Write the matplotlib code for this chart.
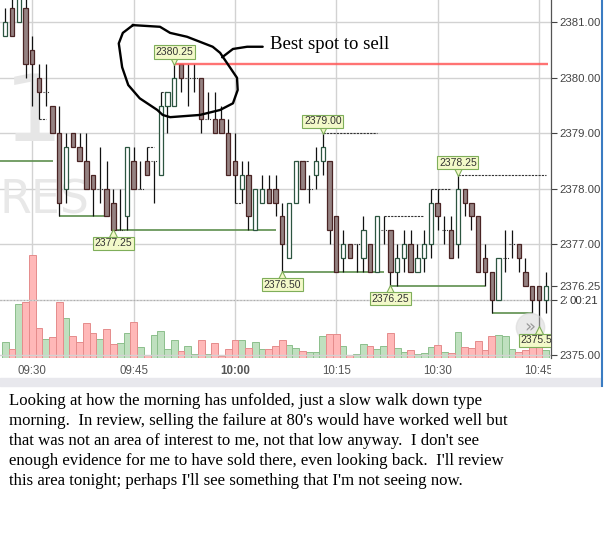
#!/usr/bin/env python3
import matplotlib
matplotlib.use("Agg")
import matplotlib.pyplot as plt
import matplotlib.transforms as mtransforms
import numpy as np

# 1-minute bars, ES futures, morning session
times = ["09:26", "09:27", "09:28", "09:29", "09:30", "09:31", "09:32", "09:33", "09:34", "09:35",
         "09:36", "09:37", "09:38", "09:39", "09:40", "09:41", "09:42", "09:43", "09:44", "09:45",
         "09:46", "09:47", "09:48", "09:49", "09:50", "09:51", "09:52", "09:53", "09:54", "09:55",
         "09:56", "09:57", "09:58", "09:59", "10:00", "10:01", "10:02", "10:03", "10:04", "10:05",
         "10:06", "10:07", "10:08", "10:09", "10:10", "10:11", "10:12", "10:13", "10:14", "10:15",
         "10:16", "10:17", "10:18", "10:19", "10:20", "10:21", "10:22", "10:23", "10:24", "10:25",
         "10:26", "10:27", "10:28", "10:29", "10:30", "10:31", "10:32", "10:33", "10:34", "10:35",
         "10:36", "10:37", "10:38", "10:39", "10:40", "10:41", "10:42", "10:43", "10:44", "10:45",
         "10:46"]
opens = [2380.75, 2381.25, 2381.00, 2381.25, 2380.50, 2380.00, 2379.75, 2379.50, 2379.00, 2378.00,
         2379.00, 2378.75, 2378.50, 2378.25, 2378.00, 2378.00, 2377.75, 2377.25, 2377.50, 2378.50,
         2378.00, 2378.50, 2378.50, 2378.25, 2379.50, 2379.50, 2380.25, 2380.00, 2380.00, 2380.00,
         2379.25, 2379.25, 2379.25, 2379.00, 2378.50, 2378.00, 2378.25, 2377.25, 2377.75, 2378.00,
         2378.00, 2377.50, 2376.75, 2377.75, 2378.50, 2378.00, 2378.25, 2378.50, 2378.50, 2377.50,
         2376.75, 2377.00, 2377.00, 2376.75, 2377.00, 2376.50, 2377.25, 2377.25, 2376.50, 2376.75,
         2377.00, 2376.50, 2376.75, 2377.00, 2377.75, 2377.25, 2377.25, 2377.00, 2378.00, 2377.75,
         2377.50, 2376.75, 2376.50, 2376.00, 2376.75, 2377.00, 2377.00, 2376.50, 2376.25, 2376.25,
         2376.00]
highs = [2381.25, 2381.50, 2381.75, 2381.50, 2380.75, 2380.25, 2380.25, 2379.50, 2379.50, 2379.00,
         2379.00, 2379.00, 2379.00, 2378.25, 2378.75, 2378.50, 2378.00, 2378.00, 2378.75, 2378.75,
         2378.50, 2378.75, 2378.50, 2379.75, 2379.75, 2380.25, 2380.25, 2380.25, 2380.25, 2380.00,
         2379.75, 2379.75, 2379.50, 2379.25, 2379.00, 2378.50, 2378.50, 2378.00, 2378.25, 2378.25,
         2378.25, 2377.75, 2377.75, 2378.50, 2378.50, 2378.25, 2378.75, 2379.00, 2378.50, 2377.50,
         2377.25, 2377.00, 2377.00, 2377.50, 2377.00, 2377.50, 2377.50, 2377.25, 2377.00, 2377.25,
         2377.25, 2377.00, 2377.25, 2378.00, 2378.00, 2377.50, 2377.50, 2378.25, 2378.00, 2377.75,
         2377.50, 2377.00, 2376.50, 2376.75, 2377.25, 2377.25, 2377.00, 2376.75, 2376.25, 2376.25,
         2376.50]
lows = [2380.75, 2380.75, 2381.00, 2380.00, 2379.50, 2379.25, 2379.50, 2379.00, 2377.50, 2377.75,
        2378.75, 2378.50, 2378.00, 2377.50, 2377.75, 2377.50, 2377.25, 2377.25, 2377.25, 2378.00,
        2378.00, 2378.25, 2377.75, 2378.25, 2379.00, 2379.50, 2379.75, 2379.50, 2379.75, 2379.00,
        2379.25, 2379.00, 2379.00, 2378.25, 2377.75, 2377.75, 2377.25, 2377.25, 2377.75, 2377.75,
        2377.50, 2376.50, 2376.75, 2377.75, 2378.00, 2377.75, 2378.00, 2378.25, 2377.00, 2376.50,
        2376.50, 2376.75, 2376.50, 2376.50, 2376.50, 2376.50, 2377.00, 2376.25, 2376.25, 2376.50,
        2376.50, 2376.50, 2376.50, 2376.75, 2377.25, 2377.00, 2376.75, 2376.75, 2377.50, 2377.25,
        2376.50, 2376.25, 2375.75, 2376.00, 2376.50, 2376.75, 2376.50, 2376.25, 2375.75, 2375.50,
        2375.75]
closes = [2381.00, 2380.75, 2381.50, 2380.25, 2380.25, 2379.75, 2379.75, 2379.00, 2377.75, 2378.75,
          2378.75, 2378.50, 2378.00, 2378.00, 2378.00, 2377.50, 2377.25, 2377.25, 2378.75, 2378.00,
          2378.00, 2378.25, 2378.50, 2379.50, 2379.75, 2380.00, 2380.00, 2380.00, 2380.00, 2379.25,
          2379.25, 2379.00, 2379.00, 2378.25, 2378.25, 2378.25, 2377.50, 2378.00, 2378.00, 2377.75,
          2377.75, 2377.00, 2377.75, 2378.50, 2378.00, 2378.00, 2378.50, 2378.75, 2377.25, 2376.50,
          2377.00, 2376.75, 2377.00, 2377.25, 2376.50, 2377.50, 2377.25, 2376.50, 2376.75, 2377.00,
          2376.50, 2376.75, 2377.00, 2377.75, 2377.50, 2377.25, 2376.75, 2378.00, 2377.75, 2377.50,
          2376.50, 2376.50, 2376.00, 2376.75, 2376.75, 2377.00, 2376.75, 2376.25, 2376.00, 2376.00,
          2376.25]
volumes = [160, 90, 540, 560, 1030, 300, 190, 210, 560, 400,
           220, 160, 350, 250, 190, 290, 140, 150, 250, 360,
           110, 30, 230, 270, 90, 180, 70, 120, 40, 180,
           40, 150, 20, 90, 180, 180, 100, 160, 90, 90,
           120, 180, 130, 100, 70, 60, 60, 220, 240, 240,
           120, 30, 40, 140, 120, 90, 120, 250, 100, 60,
           80, 40, 50, 110, 130, 60, 50, 260, 110, 100,
           170, 80, 220, 230, 220, 90, 60, 80, 120, 120,
           80]

# swing high / low lines drawn by the platform: (start, end, price)
low_lines = [("09:20", "09:33", 2378.50), ("09:34", "09:41", 2377.50), ("09:42", "10:06", 2377.25),
             ("10:07", "10:22", 2376.50), ("10:23", "10:37", 2376.25), ("10:38", "10:44", 2375.75)]
high_lines = [("09:31", "09:32", 2379.25), ("09:47", "09:48", 2378.75), ("09:49", "09:50", 2379.75),
              ("10:00", "10:01", 2377.75), ("10:09", "10:11", 2378.50), ("10:13", "10:21", 2379.00),
              ("10:22", "10:28", 2377.50), ("10:29", "10:32", 2378.00), ("10:33", "10:46", 2378.25)]

# price callouts: (time, price, above?)
callouts = [("09:51", 2380.25, True), ("09:42", 2377.25, False), ("10:13", 2379.00, True),
            ("10:07", 2376.50, False), ("10:33", 2378.25, True), ("10:23", 2376.25, False),
            ("10:45", 2375.50, False)]

price_ticks = [2375, 2376, 2376.25, 2377, 2378, 2379, 2380, 2381]
time_ticks = ["09:30", "09:45", "10:00", "10:15", "10:30", "10:45"]

# hand drawn circle around the top (minutes from 09:30, price)
circle_x = [14.9, 18.9, 20.4, 22.9, 24.8, 26.7, 27.8, 29.3, 30.3, 30.4, 29.7, 27.8, 24.8, 20.4,
            19.3, 18.5, 15.9, 14.2, 13.3, 12.8, 13.4, 14.9]
circle_y = [2380.95, 2380.92, 2380.81, 2380.74, 2380.65, 2380.56, 2380.45, 2380.18, 2380.0,
            2379.78, 2379.54, 2379.42, 2379.33, 2379.29, 2379.33, 2379.42, 2379.63, 2379.87,
            2380.19, 2380.62, 2380.81, 2380.95]
pointer_x = [28.1, 29.7, 31.8, 34.1]
pointer_y = [2380.37, 2380.52, 2380.56, 2380.56]

text_lines = ["Looking at how the morning has unfolded, just a slow walk down type",
              "morning.  In review, selling the failure at 80's would have worked well but",
              "that was not an area of interest to me, not that low anyway.  I don't see",
              "enough evidence for me to have sold there, even looking back.  I'll review",
              "this area tonight; perhaps I'll see something that I'm not seeing now."]


def minute(t):
    h, m = t.split(":")
    return int(h) * 60 + int(m) - 570


W, H = 609, 534
fig = plt.figure(figsize=(W / 100, H / 100), dpi=100)
rect = [0, 1 - 358 / H, 551 / W, 358 / H]

axv = fig.add_axes(rect)
ax = fig.add_axes(rect, sharex=axv)
ax.patch.set_alpha(0)

x = np.array([minute(t) for t in times])
o = np.array(opens)
h = np.array(highs)
l = np.array(lows)
c = np.array(closes)
up = c >= o

# volume panel (background axes)
axv.set_ylim(0, 3580)
axv.bar(x[up], np.array(volumes)[up], width=1.0, color="#bfe0bf", edgecolor="#8cbf8c", linewidth=0.7)
axv.bar(x[~up], np.array(volumes)[~up], width=1.0, color="#ffb8b8", edgecolor="#e58c8c", linewidth=0.7)
axv.set_yticks([])
axv.tick_params(axis="x", length=0, labelbottom=False)
for s in axv.spines.values():
    s.set_visible(False)

ax.set_xlim(-32.3 / 6.756, (551 - 32.3) / 6.756)
ax.set_ylim(2380 - 280.2 / 55.45, 2380 + 77.8 / 55.45)

for t in time_ticks:
    axv.axvline(minute(t), color="#d2d2d2", lw=1.0, zorder=0)
for p in range(2375, 2382):
    ax.axhline(p, color="#d2d2d2", lw=1.0, zorder=0)
ax.axhline(2376.0, color="#aaaaaa", lw=0.8, ls=(0, (1, 2)), zorder=1)

# watermark
ax.text(0.06, 0.68, "1", transform=ax.transAxes, fontsize=67, color="#e6e6e6",
        ha="center", va="center", family="DejaVu Sans", zorder=0)
ax.text(0.0, 0.438, "RES", transform=ax.transAxes, fontsize=33, color="#e8e8e8",
        ha="left", va="center", family="DejaVu Sans", zorder=0)

# swing lines
for a, b, p in low_lines:
    ax.hlines(p, minute(a), minute(b), color="#5e8f4e", lw=1.2, zorder=2)
for a, b, p in high_lines:
    ax.hlines(p, minute(a), minute(b), color="#333333", lw=0.8, ls=(0, (2, 1)), zorder=2)

# candles
bw = 0.64
ax.vlines(x, l, h, color="#111111", lw=0.9, zorder=3)
body = np.abs(c - o)
bot = np.minimum(o, c)
doji = body == 0
ax.bar(x[up & ~doji], body[up & ~doji], bottom=bot[up & ~doji], width=bw,
       color="white", edgecolor="#2c5540", linewidth=0.9, zorder=4)
ax.bar(x[~up], body[~up], bottom=bot[~up], width=bw,
       color="#958282", edgecolor="#4a2424", linewidth=0.9, zorder=4)
ax.hlines(c[doji], x[doji] - 0.4, x[doji] + 0.5, color="#333333", lw=0.8, ls=(0, (1, 1)), zorder=4)

# best spot line
ax.hlines(2380.25, minute("09:51"), minute("10:46") + 0.3, color="#ff5a5a", lw=1.7, alpha=0.85, zorder=5)

# price callouts
for t, p, above in callouts:
    mx = minute(t)
    dy = 3 if above else -3
    tr = mtransforms.offset_copy(ax.transData, fig=fig, x=0, y=dy, units="dots")
    ax.plot(mx, p, marker="v" if above else "^", ms=5.5, mfc="#f3f9c9", mec="#7fae5a",
            mew=0.8, transform=tr, zorder=7, clip_on=True)
    ann = ax.annotate(f"{p:.2f}", xy=(mx, p), xytext=(0, 7 if above else -8),
                      textcoords="offset pixels", ha="center", va="bottom" if above else "top",
                      fontsize=7.5, family="Liberation Sans", color="#333333", zorder=8,
                      bbox=dict(boxstyle="square,pad=0.15", fc="#f3f9c9", ec="#7fae5a", lw=0.8))
    ann.set_clip_box(ax.bbox)
    ann.set_clip_on(True)

# hand drawn circle and pointer
ax.plot(circle_x, circle_y, color="black", lw=1.7, solid_joinstyle="round", zorder=9)
ax.plot(pointer_x, pointer_y, color="black", lw=1.7, solid_capstyle="round", zorder=9)
ax.text(minute("10:06") - 0.8, 2380.52, "Best spot to sell", fontsize=13.5,
        family="Liberation Serif", ha="left", va="baseline", zorder=9)

# scroll button
ax.scatter([minute("10:44") - 0.3], [2375.5], s=420, color="#d8d8d8", alpha=0.55, zorder=6)
ax.text(minute("10:44") - 0.3, 2375.5, "\u00bb", fontsize=13, color="#999999",
        ha="center", va="center", zorder=6)

# axes
ax.yaxis.tick_right()
ax.set_yticks(price_ticks)
ax.set_yticklabels([f"{p:.2f}" for p in price_ticks])
ax.tick_params(axis="y", direction="out", length=4, width=0.8, pad=2, labelsize=8.2,
               colors="#444444")
for lab in ax.get_yticklabels():
    lab.set_family("Liberation Sans")
blend = mtransforms.blended_transform_factory(ax.transAxes, ax.transData)
ax.text(1.0 + 18 / 551, 2375.97, "00:21", transform=blend,
        ha="left", va="center", fontsize=8.2, family="Liberation Sans", color="#333333",
        bbox=dict(boxstyle="square,pad=0.2", fc="white", ec="none"), zorder=10, clip_on=False)

ax.set_xticks([minute(t) for t in time_ticks])
ax.set_xticklabels(time_ticks)
ax.tick_params(axis="x", length=0, pad=5, labelsize=8.3, colors="#555555", labelbottom=True)
clip = mtransforms.Bbox.from_extents(0, 0, 551, H)
for lab in ax.get_xticklabels():
    lab.set_family("Liberation Sans")
    lab.set_clip_box(mtransforms.TransformedBbox(clip, mtransforms.IdentityTransform()))
    lab.set_clip_on(True)
    if lab.get_text() == "10:00":
        lab.set_fontweight("bold")

for name, s in ax.spines.items():
    s.set_visible(name == "right")
ax.spines["right"].set_color("#555555")
ax.spines["right"].set_linewidth(0.9)

# scroll bar band and panel border
fig.patches.append(plt.Rectangle((0, 1 - 386 / H), 600 / W, 8 / H, transform=fig.transFigure,
                                 color="#e8e8ed", zorder=0))
fig.lines.append(plt.Line2D([602 / W, 602 / W], [1 - 386 / H, 1], transform=fig.transFigure,
                            color="#3a7cc2", lw=1.5))

# comment text
for i, line in enumerate(text_lines):
    fig.text(9 / W, 1 - (405 + 20 * i) / H, line, fontsize=12.1, family="Liberation Serif",
             va="baseline", ha="left", color="black")

fig.savefig("out.png", dpi=100)
